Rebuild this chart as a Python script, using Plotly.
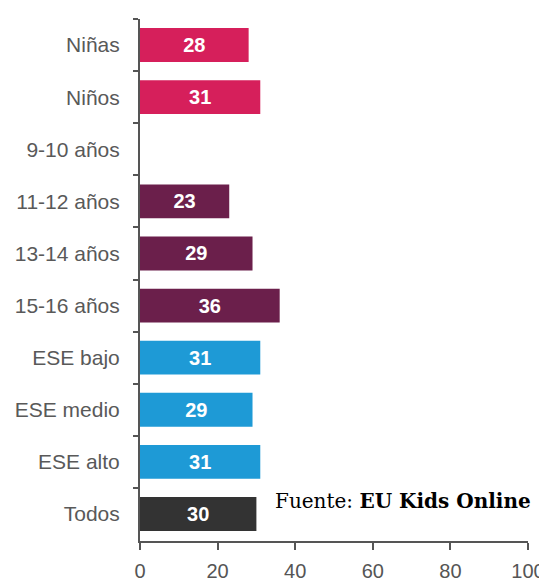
import plotly.graph_objects as go

categories = ["Niñas", "Niños", "9-10 años", "11-12 años", "13-14 años",
              "15-16 años", "ESE bajo", "ESE medio", "ESE alto", "Todos"]
values = [28, 31, None, 23, 29, 36, 31, 29, 31, 30]
bar_colors = ["#D61F5B", "#D61F5B", "#6B1F4B", "#6B1F4B", "#6B1F4B",
              "#6B1F4B", "#1E9AD6", "#1E9AD6", "#1E9AD6", "#333333"]
x_ticks = [0, 20, 40, 60, 80, 100]
source_text = "Fuente: <b>EU Kids Online</b>"

fig = go.Figure()
fig.add_trace(go.Bar(
    y=categories,
    x=values,
    orientation="h",
    marker=dict(color=bar_colors, line=dict(width=0)),
    width=0.65,
    text=[("" if v is None else str(v)) for v in values],
    textposition="inside",
    insidetextanchor="middle",
    textfont=dict(family="Arial, Liberation Sans, sans-serif", size=20, color="white"),
    texttemplate="<b>%{text}</b>",
    cliponaxis=False,
    hoverinfo="skip",
))

# page body has an 8px default margin; margins below compensate for it
fig.update_layout(
    width=547, height=581,
    margin=dict(l=132, r=27, t=11, b=48),
    paper_bgcolor="white",
    plot_bgcolor="white",
    showlegend=False,
    uniformtext=dict(minsize=20, mode="show"),
    xaxis=dict(
        range=[0, 100],
        tickvals=x_ticks,
        ticktext=[str(t) for t in x_ticks],
        showgrid=False,
        zeroline=False,
        showline=True,
        linecolor="#555555",
        linewidth=2,
        ticks="outside",
        ticklen=7,
        tickwidth=2,
        tickcolor="#555555",
        automargin=False,
        ticklabelstandoff=4,
        tickfont=dict(family="Arial, Liberation Sans, sans-serif", size=20, color="#555555"),
    ),
    yaxis=dict(
        categoryorder="array",
        categoryarray=categories,
        autorange="reversed",
        showgrid=False,
        zeroline=False,
        showline=True,
        linecolor="#555555",
        linewidth=2,
        ticks="outside",
        tickson="boundaries",
        ticklen=5,
        tickwidth=2,
        tickcolor="#555555",
        automargin=False,
        ticklabelstandoff=14,
        tickfont=dict(family="Arial, Liberation Sans, sans-serif", size=21, color="#595959"),
    ),
    annotations=[
        dict(
            text=source_text,
            xref="x", yref="y",
            x=34.3, y="Todos",
            xanchor="left", yanchor="middle",
            yshift=13,
            showarrow=False,
            font=dict(family="DejaVu Serif, Liberation Serif, serif", size=20, color="black"),
        ),
    ],
)

fig.write_html("out.html")
